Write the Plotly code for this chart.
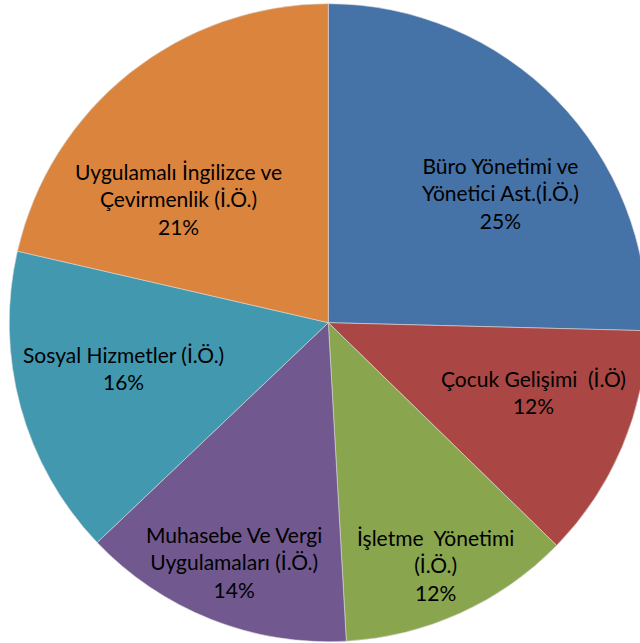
import numpy as np
import plotly.graph_objects as go

# programme names (Turkish) and their share of students
programs = [
    "Büro Yönetimi ve<br>Yönetici Ast.(İ.Ö.)",
    "Çocuk Gelişimi  (İ.Ö)",
    "İşletme  Yönetimi<br>(İ.Ö.)",
    "Muhasebe Ve Vergi<br>Uygulamaları (İ.Ö.)",
    "Sosyal Hizmetler (İ.Ö.)",
    "Uygulamalı İngilizce ve<br>Çevirmenlik (İ.Ö.)",
]
shares = [25.4, 11.9, 11.8, 13.8, 15.7, 21.4]
colors = ["#4572A7", "#AA4643", "#89A54E", "#71588F", "#4198AF", "#DB843D"]

# the pie in the original runs a few px past the right edge of the image,
# so the figure is a bit wider than the window and the overflow is hidden
W, H = 648, 643
cx, cy, R = 328.3, 322.7, 319.0

# data-label placement like the Excel original: fraction of the radius along
# the slice bisector, plus a small angular nudge (degrees, clockwise)
label_radius = [0.675, 0.68, 0.83, 0.806, 0.657, 0.61]
label_nudge = [7.2, -4.3, 0.7, -0.1, 2.8, -12.0]

fig = go.Figure(
    go.Pie(
        labels=programs,
        values=shares,
        sort=False,
        direction="clockwise",
        rotation=0,
        marker=dict(colors=colors, line=dict(color="#d9d9d9", width=0.6)),
        textinfo="none",
        hoverinfo="label+percent",
        domain=dict(
            x=[(cx - R) / W, (cx + R) / W],
            y=[(H - cy - R) / H, (H - cy + R) / H],
        ),
        showlegend=False,
    )
)

vals = np.asarray(shares, dtype=float)
frac = vals / vals.sum()
mid = (np.cumsum(frac) - frac / 2) * 360.0
for name, f, ang, rf, nudge in zip(programs, frac, mid, label_radius, label_nudge):
    a = np.deg2rad(ang + nudge)
    px = cx + rf * R * np.sin(a)
    py = cy - rf * R * np.cos(a)
    fig.add_annotation(
        x=px / W,
        y=(H - py) / H,
        xref="paper",
        yref="paper",
        text=f"{name}<br>{round(f * 100):.0f}%",
        showarrow=False,
        align="center",
        xanchor="center",
        yanchor="middle",
        font=dict(family="Lato, Open Sans, sans-serif", size=21, color="#000000"),
    )

fig.update_layout(
    width=W,
    height=H,
    margin=dict(l=0, r=0, t=0, b=0),
    paper_bgcolor="#ffffff",
    showlegend=False,
)

fig.write_html(
    "out.html",
    config={"displayModeBar": False},
    post_script="document.body.style.margin='0';document.body.style.overflow='hidden';",
)
